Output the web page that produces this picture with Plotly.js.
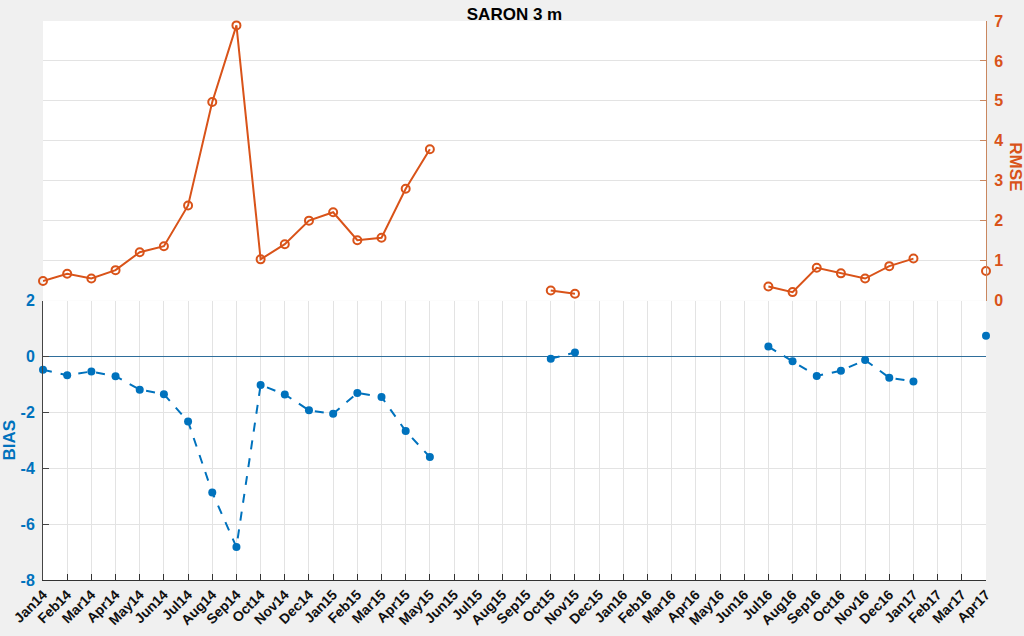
<!DOCTYPE html>
<html>
<head>
<meta charset="utf-8">
<script src="https://cdn.plot.ly/plotly-3.0.1.min.js"></script>
<style>
  html, body { margin: 0; padding: 0; background: #f0f0f0; }
  #chart { width: 1024px; height: 636px; }
</style>
</head>
<body>
<div id="chart"></div>
<script>
// months on the x axis
const months = ['Jan14','Feb14','Mar14','Apr14','May14','Jun14','Jul14','Aug14','Sep14','Oct14','Nov14','Dec14',
  'Jan15','Feb15','Mar15','Apr15','May15','Jun15','Jul15','Aug15','Sep15','Oct15','Nov15','Dec15',
  'Jan16','Feb16','Mar16','Apr16','May16','Jun16','Jul16','Aug16','Sep16','Oct16','Nov16','Dec16',
  'Jan17','Feb17','Mar17','Apr17'];

// RMSE (right axis, upper half), null = no value
const rmse = [0.49, 0.67, 0.55, 0.76, 1.21, 1.36, 2.38, 4.97, 6.89, 1.03, 1.41, 2.00,
  2.21, 1.51, 1.57, 2.80, 3.79, null, null, null, null, 0.25, 0.17, null,
  null, null, null, null, null, null, 0.35, 0.21, 0.82, 0.68, 0.55, 0.86,
  1.05, null, null, 0.74];

// BIAS (left axis, lower half)
const bias = [-0.48, -0.67, -0.54, -0.71, -1.19, -1.35, -2.33, -4.87, -6.82, -1.02, -1.36, -1.93,
  -2.05, -1.31, -1.45, -2.67, -3.60, null, null, null, null, -0.08, 0.14, null,
  null, null, null, null, null, null, 0.35, -0.17, -0.70, -0.51, -0.13, -0.76,
  -0.90, null, null, 0.74];

const biasTicks = [-8, -6, -4, -2, 0, 2];
const biasTickText = ['-8', '-6', '-4', '-2', '0', '2'];
const rmseTicks = [0, 1, 2, 3, 4, 5, 6, 7];

const blue = '#0072BD';
const orange = '#D95319';
const fontFam = 'Liberation Sans, Arial, sans-serif';

let rmseTrace = {
  x: months,
  y: rmse,
  xaxis: 'x2',
  yaxis: 'y2',
  mode: 'lines+markers',
  type: 'scatter',
  connectgaps: false,
  line: { color: orange, width: 2 },
  marker: { symbol: 'circle-open', size: 8, color: orange, line: { width: 2, color: orange } },
  cliponaxis: false
};

let biasTrace = {
  x: months,
  y: bias,
  xaxis: 'x',
  yaxis: 'y',
  mode: 'lines+markers',
  type: 'scatter',
  connectgaps: false,
  line: { color: blue, width: 2, dash: 'dash' },
  marker: { symbol: 'circle', size: 8, color: blue },
  cliponaxis: false
};

let layout = {
  width: 1024,
  height: 636,
  paper_bgcolor: '#f0f0f0',
  plot_bgcolor: '#ffffff',
  showlegend: false,
  margin: { l: 43, r: 38, t: 21, b: 56 },
  title: {
    text: 'SARON 3 m',
    font: { family: fontFam, size: 17, color: '#000', weight: 'bold' },
    x: 0.5, xref: 'paper', xanchor: 'center',
    y: 0.988, yref: 'container'
  },
  xaxis: {
    domain: [0, 1],
    anchor: 'y',
    type: 'category',
    range: [0, 39],
    showgrid: true,
    gridcolor: '#e3e3e3',
    ticks: 'inside',
    ticklen: 6,
    tickcolor: '#333',
    showline: true,
    linecolor: '#333',
    tickangle: -45,
    tickfont: { family: fontFam, size: 14, color: '#111', weight: 'bold' },
    zeroline: false
  },
  xaxis2: {
    domain: [0, 1],
    anchor: 'y2',
    type: 'category',
    matches: 'x',
    showgrid: false,
    showticklabels: false,
    ticks: '',
    showline: false,
    zeroline: false
  },
  yaxis: {
    domain: [0, 0.5],
    anchor: 'x',
    range: [-8, 2],
    tickvals: biasTicks,
    ticktext: biasTickText,
    ticks: 'inside',
    ticklen: 6,
    tickcolor: '#444',
    showline: true,
    linecolor: '#444',
    showgrid: true,
    gridcolor: '#e3e3e3',
    zeroline: true,
    zerolinecolor: '#2f6e9b',
    zerolinewidth: 1,
    ticklabelstandoff: 4,
    tickfont: { family: fontFam, size: 16, color: blue, weight: 'bold' },
    title: { text: 'BIAS', standoff: 6, font: { family: fontFam, size: 17, color: blue, weight: 'bold' } },
    automargin: false
  },
  yaxis2: {
    domain: [0.5, 1],
    anchor: 'x2',
    side: 'right',
    range: [0, 7],
    tickvals: rmseTicks,
    ticks: 'inside',
    ticklen: 6,
    tickcolor: '#c9875f',
    showline: true,
    linecolor: '#c9875f',
    showgrid: true,
    gridcolor: '#e3e3e3',
    zeroline: false,
    ticklabelstandoff: 4,
    tickfont: { family: fontFam, size: 16, color: orange, weight: 'bold' },
    automargin: false
  },
  annotations: [{
    text: 'RMSE',
    xref: 'paper', yref: 'paper',
    x: 1, y: 0.74,
    xanchor: 'center', yanchor: 'middle',
    xshift: 30,
    textangle: 90,
    showarrow: false,
    font: { family: fontFam, size: 17, color: orange, weight: 'bold' }
  }]
};

Plotly.newPlot('chart', [rmseTrace, biasTrace], layout, { displayModeBar: false });
</script>
</body>
</html>
